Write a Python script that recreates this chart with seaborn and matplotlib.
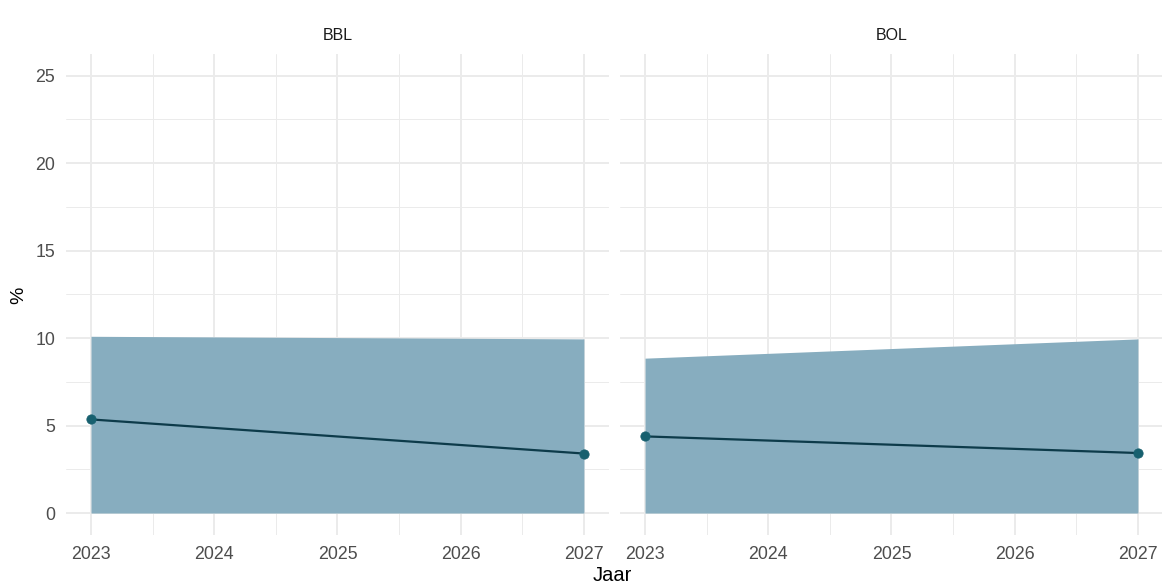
import matplotlib
matplotlib.use("Agg")
import matplotlib.pyplot as plt
from matplotlib.ticker import MultipleLocator
import seaborn as sns
import pandas as pd

# Data
panels = ["BBL", "BOL"]
years = [2023, 2027]
line_bbl = [5.35, 3.40]
line_bol = [4.38, 3.43]
band_bbl = [10.10, 9.95]
band_bol = [8.85, 9.95]

df = pd.DataFrame({
    "Jaar": years * 2,
    "panel": [panels[0]] * 2 + [panels[1]] * 2,
    "waarde": line_bbl + line_bol,
    "band": band_bbl + band_bol,
})

sns.set_theme(style="whitegrid")
plt.rcParams['font.family'] = ['Liberation Sans', 'DejaVu Sans']

FILL = "#87adbf"
LINE = "#0d3b4a"
POINT = "#17606f"
GRID = "#ebebeb"
TXT = "#4d4d4d"

fig = plt.figure(figsize=(11.62, 5.85), dpi=100)
ax1 = fig.add_axes([0.0571, 0.0856, 0.4666, 0.8227])
ax2 = fig.add_axes([0.5339, 0.0856, 0.4666, 0.8227], sharey=ax1)

for ax, name in zip([ax1, ax2], panels):
    sub = df[df["panel"] == name]
    ax.fill_between(sub["Jaar"], 0, sub["band"], color=FILL, lw=0, zorder=2)
    sns.lineplot(data=sub, x="Jaar", y="waarde", ax=ax, color=LINE, lw=1.6, zorder=3)
    sns.scatterplot(data=sub, x="Jaar", y="waarde", ax=ax, color=POINT, s=45,
                    edgecolor=POINT, zorder=4)
    ax.set_xlim(2022.8, 2027.2)
    ax.set_ylim(-1.25, 26.25)
    ax.xaxis.set_major_locator(MultipleLocator(1))
    ax.xaxis.set_minor_locator(MultipleLocator(0.5))
    ax.yaxis.set_major_locator(MultipleLocator(5))
    ax.yaxis.set_minor_locator(MultipleLocator(2.5))
    ax.grid(which="major", color=GRID, lw=1.4)
    ax.grid(which="minor", color=GRID, lw=0.7)
    ax.set_axisbelow(True)
    for s in ax.spines.values():
        s.set_visible(False)
    ax.tick_params(which="both", length=0, labelsize=12.8, labelcolor=TXT, pad=8)
    ax.set_xlabel("")
    ax.set_ylabel("")
    ax.set_title(name, fontsize=11.5, color="#1a1a1a", pad=10)

ax2.tick_params(axis="y", labelleft=False)

fig.text(0.527, 0.016, "Jaar", ha="center", va="center", fontsize=14.5, color="black")
fig.text(0.016, 0.495, "%", ha="center", va="center", rotation=90, fontsize=14, color="black")

fig.savefig("out.png", dpi=100)
